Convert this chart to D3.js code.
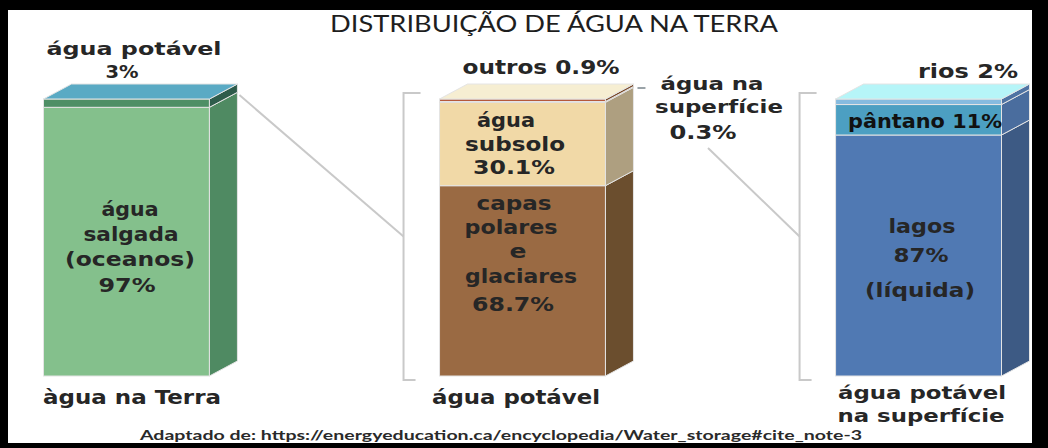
<!DOCTYPE html>
<html>
<head>
<meta charset="utf-8">
<script src="https://cdn.jsdelivr.net/npm/d3@7/dist/d3.min.js"></script>
<style>
  html, body { margin: 0; padding: 0; background: #000; }
  svg { display: block; }
</style>
</head>
<body>
<svg id="chart" width="1048" height="448"></svg>
<script>
// ---- data -------------------------------------------------------------
const categories = ["terra", "potavel", "superficie"];
const categoryLabels = ["àgua na Terra", "água potável", "água potável na superfície"];

// água na Terra (bottom → top)
const terraKeys = ["salgada", "doce"];
const terraValues = [97, 3];

// água potável (bottom → top)
const potavelKeys = ["capas", "subsolo", "superficie", "outros"];
const potavelValues = [68.7, 30.1, 0.3, 0.9];

// água potável na superfície (bottom → top)
const superficieKeys = ["lagos", "pantano", "rios"];
const superficieValues = [87, 11, 2];

const titleText = "DISTRIBUIÇÃO DE ÁGUA NA TERRA";
const sourceText = "Adaptado de: https://energyeducation.ca/encyclopedia/Water_storage#cite_note-3";

// ---- styles -----------------------------------------------------------
const faceColors = {
  salgada:    { front: "#84c08c", side: "#4f8a62" },
  doce:       { front: "#4e8f65", side: "#2e5c4b" },
  capas:      { front: "#9a6a43", side: "#6b4e2e" },
  subsolo:    { front: "#f1d9a7", side: "#ae9f80" },
  superficie: { front: "#c9875a", side: "#8a6440" },
  outros:     { front: "#b5583a", side: "#7a4a2a" },
  lagos:      { front: "#5079b3", side: "#3d5a84" },
  pantano:    { front: "#4c9fc2", side: "#4a6d9e" },
  rios:       { front: "#86bbdf", side: "#4f73a3" }
};
const topColors = { terra: "#5aaac4", potavel: "#f6eed2", superficie: "#b6f5f8" };

const depthX = 28, depthY = -15;
const labelFont = "'DejaVu Sans', Verdana, sans-serif";
const ink = "#262626";

const svg = d3.select("#chart");

// white card inside the black frame
svg.append("rect").attr("x", 8).attr("y", 10).attr("width", 1024).attr("height", 433).attr("fill", "#fff");

// ---- scales -----------------------------------------------------------
const x = d3.scaleBand().domain(categories).range([43.5, 1001.5]).paddingInner(0.581).paddingOuter(0);
const y = d3.scaleLinear().domain([0, 100]).range([376, 99]);
const bw = x.bandwidth();

function stack(keys, values) {
  let acc = 0;
  return keys.map((k, i) => {
    const d = { key: k, value: values[i], y0: acc, y1: acc + values[i] };
    acc += values[i];
    return d;
  });
}

const bars = [
  { cat: "terra", segs: stack(terraKeys, terraValues) },
  { cat: "potavel", segs: stack(potavelKeys, potavelValues) },
  { cat: "superficie", segs: stack(superficieKeys, superficieValues) }
];

// ---- connector lines and brackets (behind the bars) ----------------------
const guide = svg.append("g").attr("fill", "none").attr("stroke", "#c9c9c9").attr("stroke-width", 2);

function bracket(cat) {
  const bx = x(cat) - 36;
  const top = y(100) - 6, bottom = y(0) + 4;
  guide.append("path").attr("d", `M${bx + 17},${top}H${bx}V${bottom}H${bx + 12}`);
  return { bx, mid: (top + bottom) / 2 };
}
const b2 = bracket("potavel");
const b3 = bracket("superficie");
guide.append("line")
  .attr("x1", x("terra") + bw + depthX + 2).attr("y1", y(100) - 4)
  .attr("x2", b2.bx).attr("y2", b2.mid);
guide.append("line")
  .attr("x1", 708).attr("y1", 148)
  .attr("x2", b3.bx).attr("y2", b3.mid);
guide.append("line")
  .attr("x1", x("potavel") + bw + depthX + 4).attr("y1", y(100) + depthY + 4)
  .attr("x2", x("potavel") + bw + depthX + 12).attr("y2", y(100) + depthY + 4)
  .attr("stroke", "#9aa3a8");

// ---- 3D stacked bars ----------------------------------------------------
const edge = "#e4e4e4";
bars.forEach(b => {
  const g = svg.append("g");
  const x0 = x(b.cat);
  b.segs.forEach(s => {
    const yb = y(s.y0), yt = y(s.y1);
    const c = faceColors[s.key];
    g.append("rect")
      .attr("x", x0).attr("y", yt).attr("width", bw).attr("height", yb - yt)
      .attr("fill", c.front).attr("stroke", edge).attr("stroke-width", 1);
    g.append("path")
      .attr("d", `M${x0 + bw},${yb}L${x0 + bw},${yt}L${x0 + bw + depthX},${yt + depthY}L${x0 + bw + depthX},${yb + depthY}Z`)
      .attr("fill", c.side).attr("stroke", edge).attr("stroke-width", 1);
  });
  const yt = y(100);
  g.append("path")
    .attr("d", `M${x0},${yt}L${x0 + bw},${yt}L${x0 + bw + depthX},${yt + depthY}L${x0 + depthX},${yt + depthY}Z`)
    .attr("fill", topColors[b.cat]).attr("stroke", edge).attr("stroke-width", 1);
});

// ---- text -------------------------------------------------------------
const pct = v => `${v}%`;

// each line: text, centre x, baseline y, rendered width, size
const labels = [
  // top-left
  { t: "água potável", x: 134, y: 55, w: 175, s: 18 },
  { t: pct(terraValues[1]), x: 122, y: 78, w: 33, s: 18 },
  // inside bar 1
  { t: "água", x: 130, y: 216, w: 57, s: 20 },
  { t: "salgada", x: 131, y: 241, w: 95, s: 20 },
  { t: "(oceanos)", x: 130, y: 266, w: 130, s: 20 },
  { t: pct(terraValues[0]), x: 127, y: 292, w: 57, s: 20 },
  // bar 2 annotations
  { t: "outros " + pct(potavelValues[3]), x: 541, y: 74, w: 157, s: 20 },
  { t: "água", x: 506, y: 127, w: 58, s: 20 },
  { t: "subsolo", x: 515, y: 151, w: 100, s: 20 },
  { t: pct(potavelValues[1]), x: 514, y: 174, w: 82, s: 20 },
  { t: "capas", x: 514, y: 210, w: 75, s: 20 },
  { t: "polares", x: 511, y: 234, w: 93, s: 20 },
  { t: "e", x: 518, y: 258, w: 17, s: 20 },
  { t: "glaciares", x: 521, y: 283, w: 112, s: 20 },
  { t: pct(potavelValues[0]), x: 513, y: 311, w: 82, s: 20 },
  { t: "água na", x: 712, y: 90, w: 103, s: 18 },
  { t: "superfície", x: 719, y: 113, w: 128, s: 18 },
  { t: pct(potavelValues[2]), x: 703, y: 139, w: 67, s: 19 },
  // bar 3 annotations
  { t: "rios  " + pct(superficieValues[2]), x: 968, y: 78, w: 100, s: 20 },
  { t: "pântano  " + pct(superficieValues[1]), x: 925, y: 128, w: 154, s: 19, c: "#111" },
  { t: "lagos", x: 922, y: 233, w: 67, s: 20 },
  { t: pct(superficieValues[0]), x: 921, y: 262, w: 55, s: 20 },
  { t: "(líquida)", x: 920, y: 297, w: 110, s: 20 },
  // category labels under the bars
  { t: categoryLabels[0], x: 132, y: 404, w: 178, s: 20 },
  { t: categoryLabels[1], x: 516, y: 404, w: 168, s: 20 },
  { t: "água potável", x: 922, y: 399, w: 168, s: 18 },
  { t: "na superfície", x: 921, y: 422, w: 167, s: 18 }
];

svg.append("g").selectAll("text").data(labels).join("text")
  .attr("x", d => d.x).attr("y", d => d.y)
  .attr("text-anchor", "middle")
  .attr("textLength", d => d.w)
  .attr("lengthAdjust", "spacingAndGlyphs")
  .attr("fill", d => d.c || ink)
  .style("font-family", labelFont)
  .style("font-size", d => d.s + "px")
  .style("font-weight", "bold")
  .text(d => d.t);

svg.append("text")
  .attr("x", 554).attr("y", 32)
  .attr("text-anchor", "middle")
  .attr("textLength", 448).attr("lengthAdjust", "spacingAndGlyphs")
  .attr("fill", "#1e1e1e")
  .style("font-family", "Lato, 'Open Sans', sans-serif")
  .style("font-size", "23px")
  .text(titleText);

svg.append("text")
  .attr("x", 501).attr("y", 440)
  .attr("text-anchor", "middle")
  .attr("textLength", 722).attr("lengthAdjust", "spacingAndGlyphs")
  .attr("fill", "#2a2a2a")
  .style("font-family", "Lato, 'Open Sans', sans-serif")
  .style("font-size", "14px")
  .style("font-weight", "bold")
  .text(sourceText);
</script>
</body>
</html>
